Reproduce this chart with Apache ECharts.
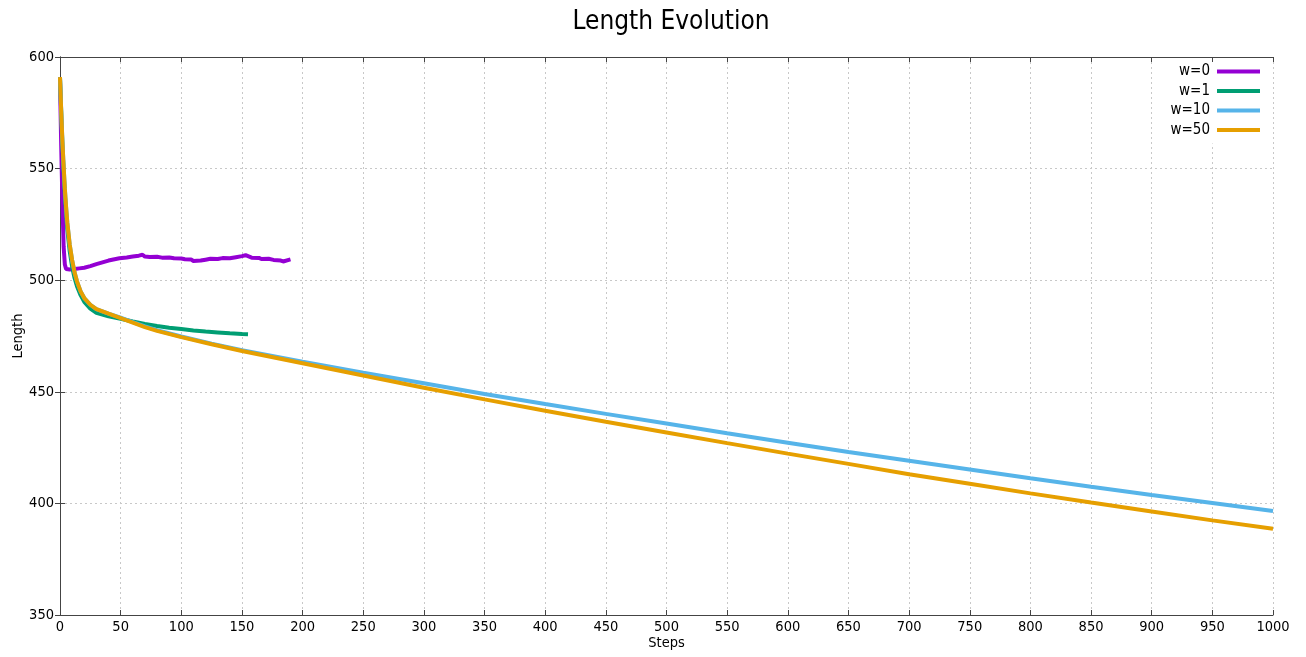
<!DOCTYPE html>
<html><head><meta charset="utf-8">
<script src="https://cdn.jsdelivr.net/npm/echarts@6/dist/echarts.min.js"></script>
<style>html,body{margin:0;padding:0;background:#fff}#c{width:1306px;height:657px}</style>
</head><body><div id="c"></div>
<script>
const seriesNames = ['w=0', 'w=1', 'w=10', 'w=50'];
const xTicks = {min: 0, max: 1000, interval: 50};
const yTicks = {min: 350, max: 600, interval: 50};

const w0 = [[0,590],[1,560],[2,535],[3,515],[4,507],[5,505],[8,504.8],[12,505],[16,505.3],[20,505.6],[25,506.3],[30,507.2],[35,508],[40,508.8],[45,509.4],[49,509.8],[50,510.4],[55,510.2],[60,510.6],[65,511],[68,511.4],[70,510.6],[74,510.4],[75,510.9],[80,510.5],[84,510.1],[85,510.7],[90,510.2],[94,509.8],[95,510.3],[100,509.7],[103,509.4],[104,509.9],[108,509.3],[110,508.6],[111,509],[116,508.8],[120,509.2],[124,509.6],[125,509],[130,509.5],[134,509.9],[135,509.3],[140,509.8],[145,510.3],[150,510.8],[153,511.2],[154,510.5],[158,510.1],[159,510.6],[164,510],[166,509.5],[167,510],[172,509.6],[176,509.1],[177,509.5],[182,508.8],[184,508.4],[185,509],[190,509.3]];

const w1 = [[0,591],[1,575],[2,560],[3,548],[4,538],[5,530],[6,523],[8,513],[10,506],[12,501],[14,497.3],[17,493.3],[20,490.3],[25,487.3],[30,485.4],[40,483.8],[50,482.7],[60,481.5],[70,480.4],[80,479.5],[90,478.7],[100,478.1],[110,477.5],[120,477],[130,476.6],[140,476.2],[150,475.9],[155,475.8]];

const w10 = [[0,591],[1,576],[2,562],[3,551],[4,541],[5,533],[6,526],[8,516],[10,509],[12,503.5],[14,499.5],[17,495],[20,492],[25,489],[30,487],[40,485],[50,483.2],[60,481.2],[70,479.3],[80,477.6],[100,474.8],[125,471.6],[150,468.6],[200,463.5],[250,458.5],[300,453.8],[350,449],[400,444.5],[450,440.1],[500,435.8],[550,431.4],[600,427.2],[650,423],[700,419.1],[750,415.2],[800,411.3],[850,407.5],[900,403.8],[950,400.2],[1000,396.6]];

const w50 = [[0,591],[1,576],[2,562],[3,551],[4,541],[5,533],[6,526],[8,516],[10,509],[12,503.5],[14,499.5],[17,495],[20,492],[25,489],[30,487],[40,485],[50,483],[60,481],[70,479],[80,477.3],[100,474.5],[125,471.3],[150,468.3],[200,462.8],[250,457.3],[300,451.8],[350,446.6],[400,441.5],[450,436.6],[500,431.8],[550,427],[600,422.3],[650,417.7],[700,413.1],[750,408.8],[800,404.5],[850,400.4],[900,396.4],[950,392.4],[1000,388.6]];

const colors = ['#9400d3', '#009e73', '#56b4e9', '#e69f00'];
const dataSets = [w0, w1, w10, w50];
const FONT = '"DejaVu Sans Condensed", "DejaVu Sans"';

const chart = echarts.init(document.getElementById('c'), null, {renderer: 'canvas'});
const axisLine = {show: true, lineStyle: {color: '#444', width: 1}};
const split = {show: true, lineStyle: {color: '#c8c8c8', type: [2, 3], width: 1}};
const tick = {show: true, inside: true, length: 5, lineStyle: {color: '#444'}};
chart.setOption({
  animation: false,
  backgroundColor: '#fff',
  title: {text: 'Length Evolution', left: 666, textAlign: 'center', top: 4,
    textStyle: {fontFamily: FONT, fontSize: 26, fontWeight: 'normal', color: '#000'}},
  grid: {left: 60, right: 33, top: 57, bottom: 42, containLabel: false, outerBoundsMode: 'none'},
  legend: {
    orient: 'vertical', right: 42, top: 62, align: 'right',
    itemWidth: 43, itemHeight: 4, itemGap: 4.5,
    icon: 'rect', backgroundColor: '#fff', padding: [2, 4, 6, 14],
    textStyle: {fontFamily: FONT, fontSize: 15, color: '#000', padding: [0, 2, 0, 0]},
    data: seriesNames
  },
  xAxis: [{
    type: 'value', min: xTicks.min, max: xTicks.max, interval: xTicks.interval,
    name: 'Steps', nameLocation: 'middle', nameGap: 21, nameMoveOverlap: false,
    nameTextStyle: {fontFamily: FONT, fontSize: 14.5, color: '#000'},
    axisLine: axisLine, axisTick: tick,
    axisLabel: {fontFamily: FONT, fontSize: 14.5, color: '#000', margin: 5, formatter: v => String(v)},
    splitLine: split
  }, {
    type: 'value', position: 'top', min: xTicks.min, max: xTicks.max, interval: xTicks.interval,
    axisLine: axisLine, axisTick: tick,
    axisLabel: {show: false}, splitLine: {show: false}
  }],
  yAxis: [{
    type: 'value', min: yTicks.min, max: yTicks.max, interval: yTicks.interval,
    name: 'Length', nameLocation: 'middle', nameGap: 34, nameRotate: 90, nameMoveOverlap: false,
    nameTextStyle: {fontFamily: FONT, fontSize: 14.5, color: '#000'},
    axisLine: axisLine, axisTick: tick,
    axisLabel: {fontFamily: FONT, fontSize: 14.5, color: '#000', margin: 6, formatter: v => String(v)},
    splitLine: split
  }, {
    type: 'value', position: 'right', min: yTicks.min, max: yTicks.max, interval: yTicks.interval,
    axisLine: axisLine, axisTick: tick,
    axisLabel: {show: false}, splitLine: {show: false}
  }],
  series: seriesNames.map((n, i) => ({
    name: n, type: 'line', data: dataSets[i], showSymbol: false, symbol: 'none',
    smooth: false, z: 2 + i,
    lineStyle: {color: colors[i], width: 4},
    itemStyle: {color: colors[i]}
  }))
});
</script>
</body></html>
